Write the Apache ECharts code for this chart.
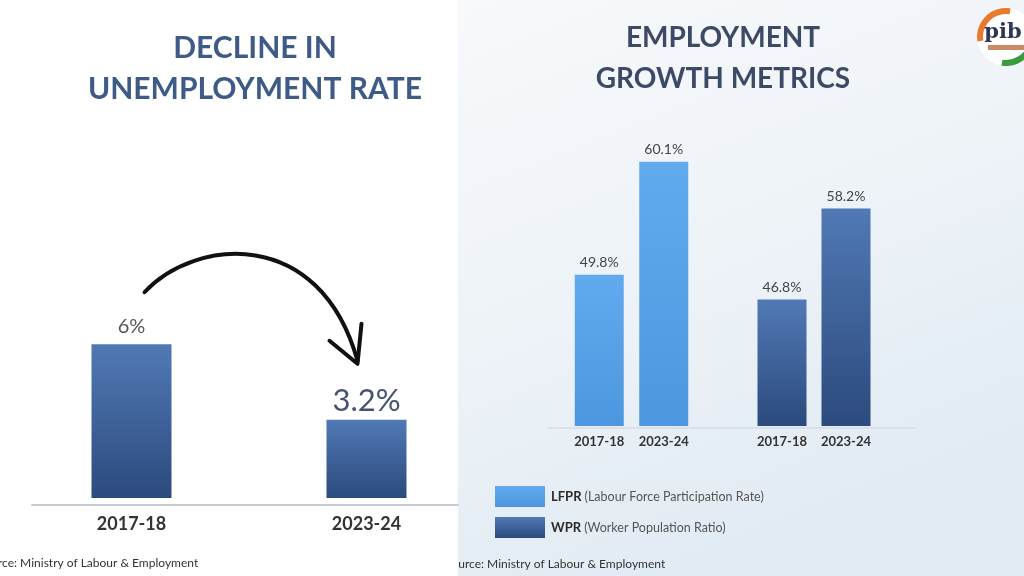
<!DOCTYPE html>
<html><head><meta charset="utf-8">
<script src="https://cdn.jsdelivr.net/npm/echarts@6/dist/echarts.min.js"></script>
<style>html,body{margin:0;padding:0;background:#fff}#c{width:1024px;height:576px}</style>
</head><body><div id="c"></div>
<script>
const leftTitle = 'DECLINE IN\nUNEMPLOYMENT RATE';
const rightTitle = 'EMPLOYMENT\nGROWTH METRICS';
const years = ['2017-18', '2023-24'];
const unemploymentRate = [6, 3.2];
const lfpr = [49.8, 60.1];
const wpr = [46.8, 58.2];
const legendNames = { LFPR: 'Labour Force Participation Rate', WPR: 'Worker Population Ratio' };
const sourceText = 'Source: Ministry of Labour & Employment';

const FONT = 'Lato, "Open Sans", sans-serif';
const darkBar = new echarts.graphic.LinearGradient(0, 0, 0, 1, [
  { offset: 0, color: '#5079b5' }, { offset: 1, color: '#2c4a7d' }]);
const lightBar = new echarts.graphic.LinearGradient(0, 0, 0, 1, [
  { offset: 0, color: '#62aaee' }, { offset: 1, color: '#4d97e0' }]);

const chart = echarts.init(document.getElementById('c'), null, { renderer: 'canvas' });

const hiddenY = (min, max, idx) => ({ type: 'value', gridIndex: idx, min, max, show: false });
const smallLabel = { interval: 0, margin: 9, fontFamily: FONT, fontSize: 13, fontWeight: 'bold', color: '#333' };

const option = {
  backgroundColor: '#ffffff',
  animation: false,
  title: [
    { text: leftTitle, left: 250, top: 23, textAlign: 'center',
      textStyle: { fontFamily: FONT, fontSize: 30, fontWeight: 'bold', color: '#3e5a86', lineHeight: 41 } },
    { text: rightTitle, left: 718, top: 12, textAlign: 'center',
      textStyle: { fontFamily: FONT, fontSize: 28, fontWeight: 'bold', color: '#3c4a66', lineHeight: 41 } }
  ],
  legend: {
    data: ['LFPR', 'WPR'], orient: 'vertical', left: 490, top: 481,
    itemWidth: 50, itemHeight: 21, itemGap: 10, icon: 'rect',
    formatter: n => `{b|${n}} {n|(${legendNames[n]})}`,
    textStyle: { fontFamily: FONT, padding: [0, 0, 0, 1],
      rich: { b: { fontWeight: 'bold', fontSize: 13, color: '#2b2b2b', fontFamily: FONT },
              n: { fontSize: 12.5, color: '#555', fontFamily: FONT } } }
  },
  grid: [
    { left: 14, width: 470, top: 293, bottom: 78 },          // left bars
    { left: 32, right: 566, top: 400, bottom: 71 },           // left axis line
    { left: 567, width: 129, top: 130, bottom: 150 },         // LFPR
    { left: 750, width: 128, top: 130, bottom: 150 },         // WPR
    { left: 548, right: 109, top: 400, bottom: 148 }          // right axis line
  ],
  xAxis: [
    { type: 'category', gridIndex: 0, data: years, axisLine: { show: false }, axisTick: { show: false },
      axisLabel: { interval: 0, margin: 17, fontFamily: FONT, fontSize: 18, fontWeight: 'bold', color: '#333' } },
    { type: 'category', gridIndex: 1, data: [''], axisTick: { show: false }, axisLabel: { show: false },
      axisLine: { lineStyle: { color: '#c6cad1', width: 2 } } },
    { type: 'category', gridIndex: 2, data: years, axisTick: { show: false }, axisLine: { show: false }, axisLabel: smallLabel },
    { type: 'category', gridIndex: 3, data: years, axisTick: { show: false }, axisLine: { show: false }, axisLabel: smallLabel },
    { type: 'category', gridIndex: 4, data: [''], axisTick: { show: false }, axisLabel: { show: false },
      axisLine: { lineStyle: { color: '#d5dce5', width: 1.5 } } }
  ],
  yAxis: [hiddenY(0.3, 7.9, 0), hiddenY(0, 1, 1), hiddenY(36, 63, 2), hiddenY(31, 68, 3), hiddenY(0, 1, 4)],
  series: [
    { name: 'Unemployment Rate', type: 'bar', xAxisIndex: 0, yAxisIndex: 0, barWidth: 80,
      data: unemploymentRate.map((v, i) => i === 0 ? { value: v, label: { fontSize: 20, color: '#555', distance: 8 } }
                                                  : { value: v, label: { fontSize: 31, color: '#45526f', distance: 3 } }),
      itemStyle: { color: darkBar },
      label: { show: true, position: 'top', fontFamily: FONT, formatter: p => p.value + '%' } },
    { name: 'LFPR', type: 'bar', xAxisIndex: 2, yAxisIndex: 2, barWidth: 49, data: lfpr,
      itemStyle: { color: lightBar },
      label: { show: true, position: 'top', distance: 5, fontFamily: FONT, fontSize: 14, color: '#444', formatter: p => p.value + '%' } },
    { name: 'WPR', type: 'bar', xAxisIndex: 3, yAxisIndex: 3, barWidth: 49, data: wpr,
      itemStyle: { color: darkBar },
      label: { show: true, position: 'top', distance: 5, fontFamily: FONT, fontSize: 14, color: '#444', formatter: p => p.value + '%' } }
  ]
};
chart.setOption(option);

// decorative elements anchored to the bars
const p1 = chart.convertToPixel({ xAxisIndex: 0, yAxisIndex: 0 }, [0, unemploymentRate[0]]);
const p2 = chart.convertToPixel({ xAxisIndex: 0, yAxisIndex: 0 }, [1, unemploymentRate[1]]);
const sx = p1[0] + 13, sy = p1[1] - 52;
const ex = p2[0] - 9, ey = p2[1] - 56;

chart.setOption({
  graphic: { elements: [
    { id: 'rbg', type: 'rect', z: -100, silent: true, shape: { x: 458, y: 0, width: 566, height: 576 },
      style: { fill: new echarts.graphic.LinearGradient(0, 0, 0.4, 1, [
        { offset: 0, color: '#f7f9fb' }, { offset: 0.5, color: '#eef3f8' }, { offset: 1, color: '#e1ebf3' }]) } },
    { id: 'arrowCurve', type: 'bezierCurve', z: 50, silent: true,
      shape: { x1: sx, y1: sy, cpx1: sx + 50, cpy1: sy - 54, cpx2: ex - 38, cpy2: sy - 67, x2: ex, y2: ey - 3 },
      style: { stroke: '#111', lineWidth: 4, fill: null, lineCap: 'round' } },
    { id: 'arrowHead', type: 'polyline', z: 50, silent: true,
      shape: { points: [[ex - 28, ey - 23], [ex, ey], [ex + 4, ey - 40]] },
      style: { stroke: '#111', lineWidth: 4, fill: null, lineCap: 'round', lineJoin: 'round' } },
    { id: 'srcL', type: 'text', z: 60, silent: true, x: -22, y: 563,
      style: { text: sourceText, fontSize: 12, fontFamily: FONT, fill: '#333', textVerticalAlign: 'middle', verticalAlign: 'middle' } },
    { id: 'srcR', type: 'text', z: 60, silent: true, x: 445, y: 564,
      style: { text: sourceText, fontSize: 12, fontFamily: FONT, fill: '#333', textVerticalAlign: 'middle', verticalAlign: 'middle' } },
    { id: 'cover', type: 'rect', z: 70, silent: true, shape: { x: 420, y: 548, width: 38, height: 28 }, style: { fill: '#ffffff' } },
    { id: 'logo', type: 'group', x: 1006, y: 37, z: 80, silent: true, children: [
      { type: 'circle', shape: { cx: 0, cy: 0, r: 29 }, style: { fill: '#ffffff' } },
      { type: 'arc', shape: { cx: 0, cy: 0, r: 26, startAngle: Math.PI * 0.95, endAngle: Math.PI * 1.55 },
        style: { stroke: '#e97a2c', lineWidth: 6, fill: null } },
      { type: 'arc', shape: { cx: 0, cy: 0, r: 26, startAngle: Math.PI * 0.1, endAngle: Math.PI * 0.55 },
        style: { stroke: '#3c9a3f', lineWidth: 6, fill: null } },
      { type: 'rect', shape: { x: -18, y: 8, width: 36, height: 5 }, style: { fill: '#c98b63' } },
      { type: 'text', x: -3, y: -4, style: { text: 'pib', fontSize: 21, fontWeight: 'bold', fontFamily: 'DejaVu Serif, serif',
        fill: '#2c3758', textAlign: 'center', align: 'center', textVerticalAlign: 'middle', verticalAlign: 'middle' } }
    ] }
  ] }
});
</script></body></html>
